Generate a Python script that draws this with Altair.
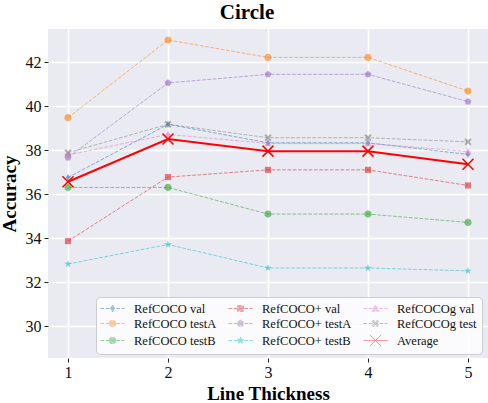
import altair as alt
import pandas as pd
import re

x_vals = [1, 2, 3, 4, 5]
series_names = ["RefCOCO val", "RefCOCO testA", "RefCOCO testB",
                "RefCOCO+ val", "RefCOCO+ testA", "RefCOCO+ testB",
                "RefCOCOg val", "RefCOCOg test"]
refcoco_val = [36.75, 39.17, 38.33, 38.33, 37.80]
refcoco_testA = [39.47, 43.00, 42.21, 42.21, 40.68]
refcoco_testB = [36.30, 36.30, 35.09, 35.09, 34.71]
refcocop_val = [33.86, 36.77, 37.10, 37.10, 36.39]
refcocop_testA = [37.66, 41.05, 41.44, 41.44, 40.20]
refcocop_testB = [32.82, 33.71, 32.64, 32.64, 32.51]
refcocog_val = [37.78, 38.71, 38.30, 38.30, 37.93]
refcocog_test = [37.88, 39.17, 38.56, 38.56, 38.37]
average = [36.56, 38.50, 37.95, 37.95, 37.35]
y_ticks = [30, 32, 34, 36, 38, 40, 42]

series_values = [refcoco_val, refcoco_testA, refcoco_testB,
                 refcocop_val, refcocop_testA, refcocop_testB,
                 refcocog_val, refcocog_test]
series_colors = ["#1f77b4", "#ff7f0e", "#2ca02c", "#d62728", "#9467bd",
                 "#17becf", "#e377c2", "#7f7f7f"]

# marker paths in unit box
P_THIN_DIAMOND = "M0,-1L0.6,0L0,1L-0.6,0Z"
P_CIRCLE = "M1,0A1,1 0 1,1 -1,0A1,1 0 1,1 1,0Z"
P_SQUARE = "M-0.85,-0.85L0.85,-0.85L0.85,0.85L-0.85,0.85Z"
P_PENTAGON = "M0,-1L0.951,-0.309L0.588,0.809L-0.588,0.809L-0.951,-0.309Z"
P_STAR = ("M0,-1.1L0.246,-0.338L1.046,-0.34L0.398,0.129L0.647,0.89L0,0.418"
          "L-0.647,0.89L-0.398,0.129L-1.046,-0.34L-0.246,-0.338Z")
P_TRI = "M0,-1L1,0.8L-1,0.8Z"
P_XFILL = ("M-1,-0.6L-0.6,-1L0,-0.4L0.6,-1L1,-0.6L0.4,0L1,0.6L0.6,1L0,0.4"
           "L-0.6,1L-1,0.6L-0.4,0Z")
P_X = "M-1,-1L1,1M-1,1L1,-1"
series_shapes = [P_THIN_DIAMOND, P_CIRCLE, P_CIRCLE, P_SQUARE, P_PENTAGON,
                 P_STAR, P_TRI, P_XFILL]

rows = []
for name, vals in zip(series_names, series_values):
    for xv, v in zip(x_vals, vals):
        rows.append({"x": xv, "value": v, "series": name})
df = pd.DataFrame(rows)
avg_df = pd.DataFrame({"x": x_vals, "value": average, "series": "Average"})

FONT = "Liberation Serif"
xs = alt.Scale(domain=[0.8, 5.2], nice=False, zero=False)
ys = alt.Scale(domain=[28.55, 43.5], nice=False, zero=False)
X = alt.X("x:Q", scale=xs, axis=alt.Axis(values=x_vals, format="d", title="Line Thickness",
                                          titlePadding=4, labelPadding=2, labelFont=FONT,
                                          labelFontSize=16, titleFont=FONT))
Y = alt.Y("value:Q", scale=ys, axis=alt.Axis(values=y_ticks, title="Accuracy",
                                              titlePadding=6, labelPadding=3, labelFont=FONT,
                                              labelFontSize=16, titleFont=FONT))

lines = alt.Chart(df).mark_line(strokeDash=[3.7, 1.6], strokeWidth=1, opacity=0.55).encode(
    x=X, y=Y,
    color=alt.Color("series:N", scale=alt.Scale(domain=series_names, range=series_colors), legend=None),
)
points = alt.Chart(df).mark_point(filled=True, opacity=0.6, size=52).encode(
    x=X, y=Y,
    color=alt.Color("series:N", scale=alt.Scale(domain=series_names, range=series_colors), legend=None),
    shape=alt.Shape("series:N", scale=alt.Scale(domain=series_names, range=series_shapes), legend=None),
)
avg_line = alt.Chart(avg_df).mark_line(color="#ff0000", strokeWidth=2).encode(x=X, y=Y)
avg_pts = alt.Chart(avg_df).mark_point(shape=P_X, filled=False, color="#ff0000", size=121,
                                       strokeWidth=1.5, opacity=1).encode(x=X, y=Y)

# legend (row-major order to mimic column-major matplotlib layout)
legend_order = ["RefCOCO val", "RefCOCO+ val", "RefCOCOg val",
                "RefCOCO testA", "RefCOCO+ testA", "RefCOCOg test",
                "RefCOCO testB", "RefCOCO+ testB", "Average"]
all_names = series_names + ["Average"]
all_colors = series_colors + ["#ff0000"]
color_of = dict(zip(all_names, all_colors))


def legend_path(marker, k):
    def scale(m):
        return str(round(float(m.group(0)) * k, 4))
    if marker.startswith("M1,0A"):
        r = k
        mk = f"M{r},0A{r},{r} 0 1,1 {-r},0A{r},{r} 0 1,1 {r},0Z"
    else:
        mk = re.sub(r"-?\d+\.?\d*", scale, marker)
    return "M-2,0L2,0" + mk


shape_of = dict(zip(all_names, [legend_path(s, 0.55) for s in series_shapes] + [legend_path(P_X, 0.95)]))
leg_df = pd.DataFrame({"series": legend_order, "x": [1] * 9, "value": [30] * 9})
leg_scale = lambda rng: alt.Scale(domain=legend_order, range=rng)
legend_layer = alt.Chart(leg_df).mark_point(filled=True).encode(
    x=X, y=Y,
    fill=alt.Fill("series:N", scale=leg_scale([color_of[n] for n in legend_order]), title=None),
    stroke=alt.Stroke("series:N", scale=leg_scale([color_of[n] for n in legend_order]), title=None),
    shape=alt.Shape("series:N", scale=leg_scale([shape_of[n] for n in legend_order]), title=None),
    strokeDash=alt.StrokeDash("series:N", scale=leg_scale([[3.7, 1.6] if n != "Average" else [1, 0] for n in legend_order]), title=None),
    opacity=alt.Opacity("series:N", scale=leg_scale([0.5 if n != "Average" else 1.0 for n in legend_order]), title=None),
    strokeWidth=alt.StrokeWidth("series:N", scale=leg_scale([1.0 if n != "Average" else 2.0 for n in legend_order]), title=None),
).transform_filter("datum.x > 100")

chart = alt.layer(lines, points, avg_line, avg_pts, legend_layer).resolve_scale(
    color="independent", fill="independent", stroke="independent", shape="independent",
    strokeDash="independent", opacity="independent", strokeWidth="independent"
).properties(
    width=440, height=329,
    title=alt.TitleParams("Circle", fontSize=21, fontWeight="bold", font=FONT, color="#000",
                          anchor="middle", dx=-21, offset=6),
    autosize=alt.AutoSizeParams(type="none"),
    padding={"left": 48, "top": 29, "right": 0, "bottom": 45},
    background="white",
).configure_view(fill="#eaeaf2", stroke=None).configure_axis(
    gridColor="white", gridWidth=1.6, domain=False, tickColor="#222", tickSize=4, tickWidth=1,
    labelFont=FONT, labelFontSize=16, labelColor="#111", titleFont=FONT, titleFontSize=19,
    titleFontWeight="bold", titleColor="#000",
).configure_legend(
    orient="none", legendX=48, legendY=268, direction="horizontal", columns=3,
    labelFont=FONT, labelFontSize=12.5, labelColor="#111", symbolSize=144,
    symbolOffset=5, labelOffset=15, columnPadding=9, rowPadding=2,
    fillColor="rgba(255,255,255,0.8)", strokeColor="#cccccc", cornerRadius=4, padding=5,
    symbolStrokeWidth=1,
)

chart.save("out.html", embed_options={"renderer": "svg", "actions": False})
